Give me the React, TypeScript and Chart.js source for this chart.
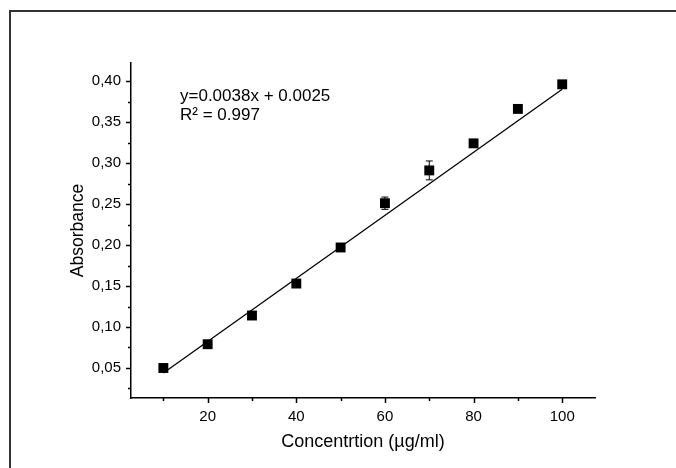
import React, { useEffect, useRef } from 'react';
import { Chart, registerables } from 'chart.js';

Chart.register(...registerables);

// ---- data ----
const concentrations = [10, 20, 30, 40, 50, 60, 70, 80, 90, 100];
const absorbance = [0.05, 0.079, 0.114, 0.153, 0.197, 0.251, 0.291, 0.324, 0.366, 0.396];
const absorbanceErr = [0, 0, 0, 0, 0, 0.0075, 0.0115, 0, 0, 0];
const fitX = [10, 100];
const fitY = [0.044, 0.39];
const yMajorTicks = [0.05, 0.1, 0.15, 0.2, 0.25, 0.3, 0.35, 0.4];
const yMinorTicks = [0.025, 0.075, 0.125, 0.175, 0.225, 0.275, 0.325, 0.375];
const xMajorTicks = [20, 40, 60, 80, 100];
const xMinorTicks = [10, 30, 50, 70, 90];
const equationLines = ['y=0.0038x + 0.0025', 'R\u00B2 = 0.997'];
const xTitle = 'Concentrtion (\u00B5g/ml)';
const yTitle = 'Absorbance';

const FONT = 'Arial, "Liberation Sans", sans-serif';

const customPlugin = {
  id: 'customDraw',
  beforeDatasetsDraw(chart: any) {
    const { ctx, scales } = chart;
    const xs = scales.x;
    const ys = scales.y;
    ctx.save();
    ctx.strokeStyle = '#000';
    ctx.lineWidth = 1;
    concentrations.forEach((c, i) => {
      const e = absorbanceErr[i];
      if (!e) return;
      const px = xs.getPixelForValue(c);
      const top = ys.getPixelForValue(absorbance[i] + e);
      const bot = ys.getPixelForValue(absorbance[i] - e);
      ctx.beginPath();
      ctx.moveTo(px, top);
      ctx.lineTo(px, bot);
      ctx.moveTo(px - 3.5, top);
      ctx.lineTo(px + 3.5, top);
      ctx.moveTo(px - 3.5, bot);
      ctx.lineTo(px + 3.5, bot);
      ctx.stroke();
    });
    ctx.restore();
  },
  afterDraw(chart: any) {
    const { ctx, scales, chartArea } = chart;
    const xs = scales.x;
    const ys = scales.y;
    ctx.save();
    ctx.strokeStyle = '#000';
    ctx.lineWidth = 1.5;
    ctx.beginPath();
    yMajorTicks.forEach((v) => {
      const py = Math.round(ys.getPixelForValue(v)) + 0.5;
      ctx.moveTo(chartArea.left, py);
      ctx.lineTo(chartArea.left - 5, py);
    });
    yMinorTicks.forEach((v) => {
      const py = Math.round(ys.getPixelForValue(v)) + 0.5;
      ctx.moveTo(chartArea.left, py);
      ctx.lineTo(chartArea.left - 3, py);
    });
    xMajorTicks.forEach((v) => {
      const px = Math.round(xs.getPixelForValue(v)) + 0.5;
      ctx.moveTo(px, chartArea.bottom);
      ctx.lineTo(px, chartArea.bottom + 5);
    });
    xMinorTicks.forEach((v) => {
      const px = Math.round(xs.getPixelForValue(v)) + 0.5;
      ctx.moveTo(px, chartArea.bottom);
      ctx.lineTo(px, chartArea.bottom + 3);
    });
    ctx.stroke();

    ctx.fillStyle = '#000';
    ctx.font = `17px ${FONT}`;
    ctx.textAlign = 'left';
    ctx.textBaseline = 'alphabetic';
    equationLines.forEach((t, i) => {
      ctx.fillText(t, chartArea.left + 49, chartArea.top + 38 + i * 19);
    });
    ctx.restore();
  },
};

export default function App() {
  const canvasRef = useRef<HTMLCanvasElement | null>(null);

  useEffect(() => {
    if (!canvasRef.current) return;
    const chart = new Chart(canvasRef.current, {
      type: 'scatter',
      data: {
        datasets: [
          {
            label: 'fit',
            data: fitX.map((x, i) => ({ x, y: fitY[i] })),
            showLine: true,
            borderColor: '#000',
            borderWidth: 1.3,
            pointRadius: 0,
            order: 2,
          },
          {
            label: 'Absorbance',
            data: concentrations.map((x, i) => ({ x, y: absorbance[i] })),
            pointStyle: 'rect',
            pointRadius: 7,
            pointHoverRadius: 7,
            backgroundColor: '#000',
            borderColor: '#000',
            borderWidth: 0,
            order: 1,
          },
        ],
      },
      options: {
        animation: false,
        responsive: true,
        maintainAspectRatio: false,
        events: [],
        layout: { padding: { top: 63, right: 81, left: 0, bottom: 0 } },
        plugins: {
          legend: { display: false },
          tooltip: { enabled: false },
        },
        scales: {
          x: {
            type: 'linear',
            min: 2.7,
            max: 107.4,
            grid: { display: false, drawTicks: false },
            border: { display: true, color: '#000', width: 1.5 },
            afterBuildTicks: (axis: any) => {
              axis.ticks = xMajorTicks.map((v) => ({ value: v }));
            },
            afterFit: (axis: any) => {
              axis.height = 70;
            },
            ticks: {
              color: '#000',
              font: { family: FONT, size: 15 },
              padding: 10,
              maxRotation: 0,
              autoSkip: false,
              callback: (v: any) => String(v),
            },
            title: {
              display: true,
              text: xTitle,
              color: '#000',
              font: { family: FONT, size: 18 },
              padding: { top: 0, bottom: 15 },
            },
          },
          y: {
            type: 'linear',
            min: 0.0134,
            max: 0.422,
            grid: { display: false, drawTicks: false },
            border: { display: true, color: '#000', width: 1.5 },
            afterBuildTicks: (axis: any) => {
              axis.ticks = yMajorTicks.map((v) => ({ value: v }));
            },
            afterFit: (axis: any) => {
              axis.width = 131;
            },
            ticks: {
              color: '#000',
              font: { family: FONT, size: 15 },
              padding: 10,
              autoSkip: false,
              callback: (v: any) => Number(v).toFixed(2).replace('.', ','),
            },
            title: {
              display: true,
              text: yTitle,
              color: '#000',
              font: { family: FONT, size: 17.5 },
              padding: { top: 68, bottom: 0 },
            },
          },
        },
      },
      plugins: [customPlugin],
    } as any);
    return () => chart.destroy();
  }, []);

  return (
    <div
      style={{
        position: 'absolute',
        left: 0,
        top: 0,
        width: 676,
        height: 468,
        overflow: 'hidden',
        background: '#fff',
      }}
    >
      <div
        style={{
          position: 'absolute',
          left: 9,
          top: 10,
          width: 720,
          height: 520,
          border: '2px solid #333',
          boxSizing: 'border-box',
        }}
      />
      <canvas ref={canvasRef} style={{ position: 'absolute', left: 0, top: 0, width: 676, height: 468 }} />
    </div>
  );
}
